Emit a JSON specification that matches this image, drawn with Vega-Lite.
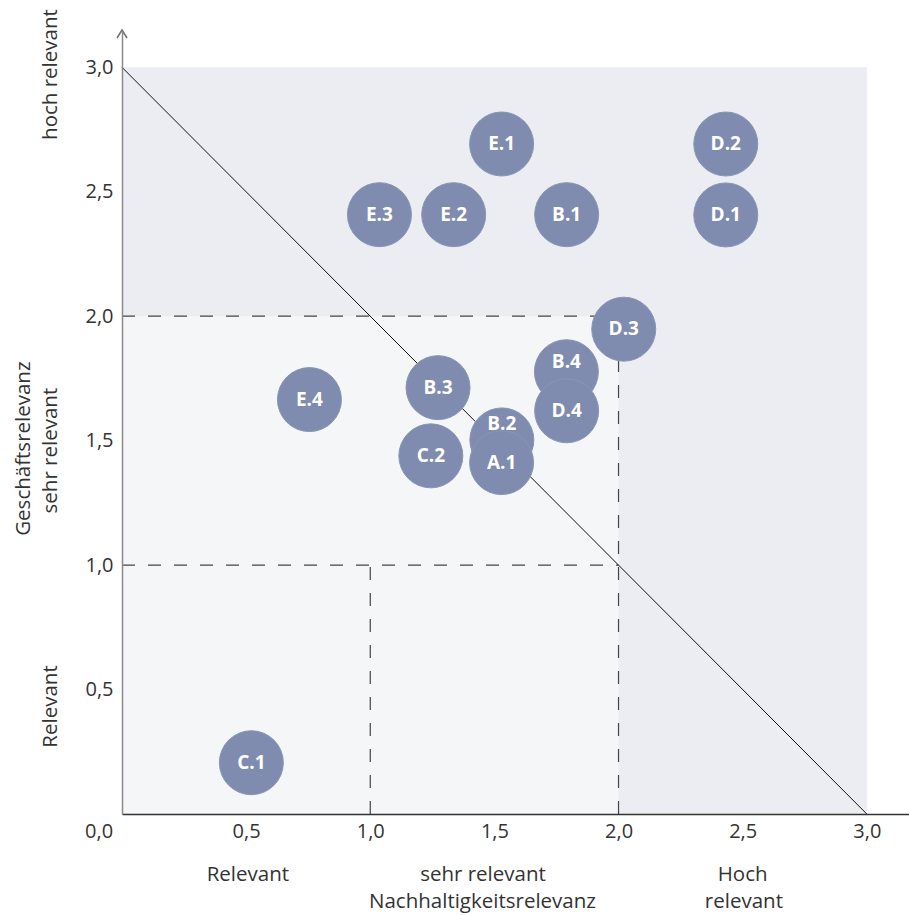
{
  "$schema": "https://vega.github.io/schema/vega-lite/v6.json",
  "width": 787,
  "height": 784,
  "autosize": {"type": "none"},
  "padding": {"left": 122, "top": 30, "right": 0, "bottom": 101},
  "background": "white",
  "config": {"view": {"stroke": null}, "font": "Open Sans", "axis": {"grid": false}},
  "layer": [
    {
      "data": {"values": [{"x": 0, "x2": 3, "y": 0, "y2": 3}]},
      "mark": {"type": "rect", "fill": "#ecedf2"},
      "encoding": {
        "x": {"field": "x", "type": "quantitative", "scale": {"domain": [0, 3.17], "nice": false, "zero": false},
          "axis": {"values": [0.5, 1, 1.5, 2, 2.5, 3], "labelExpr": "replace(format(datum.value, '.1f'), '.', ',')", "ticks": false, "domainColor": "#333333", "domainWidth": 1.5, "labelFontSize": 20, "labelColor": "#333333", "labelPadding": 7, "title": null, "zindex": 1, "labelFlush": false}},
        "x2": {"field": "x2"},
        "y": {"field": "y", "type": "quantitative", "scale": {"domain": [0, 3.15], "nice": false, "zero": false},
          "axis": {"values": [0.5, 1, 1.5, 2, 2.5, 3], "labelExpr": "replace(format(datum.value, '.1f'), '.', ',')", "ticks": false, "domainColor": "#8a8a8a", "domainWidth": 1.5, "labelFontSize": 20, "labelColor": "#333333", "labelPadding": 9, "title": null, "zindex": 1, "labelFlush": false}},
        "y2": {"field": "y2"}
      }
    },
    {
      "data": {"values": [{"x": 0, "x2": 2, "y": 0, "y2": 2}]},
      "mark": {"type": "rect", "fill": "#f5f6f8"},
      "encoding": {
        "x": {"field": "x", "type": "quantitative"},
        "x2": {"field": "x2"},
        "y": {"field": "y", "type": "quantitative"},
        "y2": {"field": "y2"}
      }
    },
    {
      "data": {"values": [
        {"x": 0, "x2": 2, "y": 2, "y2": 2},
        {"x": 2, "x2": 2, "y": 0, "y2": 2},
        {"x": 0, "x2": 2, "y": 1, "y2": 1},
        {"x": 1, "x2": 1, "y": 0, "y2": 1}
      ]},
      "mark": {"type": "rule", "color": "#444444", "strokeWidth": 1.2, "strokeDash": [13, 13]},
      "encoding": {
        "x": {"field": "x", "type": "quantitative"},
        "x2": {"field": "x2"},
        "y": {"field": "y", "type": "quantitative"},
        "y2": {"field": "y2"}
      }
    },
    {
      "data": {"values": [{"x": 0, "x2": 3, "y": 3, "y2": 0}]},
      "mark": {"type": "rule", "color": "#111111", "strokeWidth": 1},
      "encoding": {
        "x": {"field": "x", "type": "quantitative"},
        "x2": {"field": "x2"},
        "y": {"field": "y", "type": "quantitative"},
        "y2": {"field": "y2"}
      }
    },
    {
      "data": {"name": "pts", "values": [
        {"id": "E.1", "x": 1.529, "y": 2.692, "ly": 2.692},
        {"id": "D.2", "x": 2.432, "y": 2.692, "ly": 2.692},
        {"id": "E.3", "x": 1.037, "y": 2.408, "ly": 2.408},
        {"id": "E.2", "x": 1.336, "y": 2.408, "ly": 2.408},
        {"id": "B.1", "x": 1.791, "y": 2.408, "ly": 2.408},
        {"id": "D.1", "x": 2.432, "y": 2.407, "ly": 2.407},
        {"id": "D.3", "x": 2.021, "y": 1.948, "ly": 1.948},
        {"id": "E.4", "x": 0.755, "y": 1.665, "ly": 1.665},
        {"id": "B.3", "x": 1.273, "y": 1.713, "ly": 1.713},
        {"id": "C.2", "x": 1.244, "y": 1.439, "ly": 1.439},
        {"id": "B.4", "x": 1.790, "y": 1.777, "ly": 1.815},
        {"id": "D.4", "x": 1.791, "y": 1.620, "ly": 1.620},
        {"id": "B.2", "x": 1.530, "y": 1.503, "ly": 1.568},
        {"id": "A.1", "x": 1.529, "y": 1.412, "ly": 1.412},
        {"id": "C.1", "x": 0.521, "y": 0.206, "ly": 0.206}
      ]},
      "layer": [
        {
          "mark": {"type": "circle", "size": 4096, "opacity": 1, "fill": "#7f8caf", "stroke": "#8896b6", "strokeWidth": 1},
          "encoding": {
            "x": {"field": "x", "type": "quantitative"},
            "y": {"field": "y", "type": "quantitative"}
          }
        },
        {
          "mark": {"type": "text", "color": "white", "fontWeight": "bold", "fontSize": 19, "align": "center", "baseline": "middle"},
          "encoding": {
            "x": {"field": "x", "type": "quantitative"},
            "y": {"field": "ly", "type": "quantitative"},
            "text": {"field": "id"}
          }
        }
      ]
    },
    {
      "data": {"values": [
        {"t": "Relevant", "x": 0.507, "y": -0.271},
        {"t": "sehr relevant", "x": 1.454, "y": -0.271},
        {"t": "Nachhaltigkeitsrelevanz", "x": 1.452, "y": -0.378},
        {"t": "Hoch", "x": 2.5, "y": -0.271},
        {"t": "relevant", "x": 2.505, "y": -0.378}
      ]},
      "mark": {"type": "text", "fontSize": 20.5, "color": "#333333", "align": "center", "baseline": "alphabetic"},
      "encoding": {
        "x": {"field": "x", "type": "quantitative"},
        "y": {"field": "y", "type": "quantitative"},
        "text": {"field": "t"}
      }
    },
    {
      "data": {"values": [
        {"t": "hoch relevant", "x": -0.262, "y": 2.971},
        {"t": "sehr relevant", "x": -0.262, "y": 1.46},
        {"t": "Relevant", "x": -0.262, "y": 0.432},
        {"t": "Geschäftsrelevanz", "x": -0.3705, "y": 1.468}
      ]},
      "mark": {"type": "text", "fontSize": 20.5, "color": "#333333", "align": "center", "baseline": "alphabetic", "angle": 270},
      "encoding": {
        "x": {"field": "x", "type": "quantitative"},
        "y": {"field": "y", "type": "quantitative"},
        "text": {"field": "t"}
      }
    },
    {
      "data": {"values": [{"t": "0,0", "x": -0.036, "y": -0.074}]},
      "mark": {"type": "text", "fontSize": 20, "color": "#333333", "align": "right", "baseline": "middle"},
      "encoding": {
        "x": {"field": "x", "type": "quantitative"},
        "y": {"field": "y", "type": "quantitative"},
        "text": {"field": "t"}
      }
    },
    {
      "data": {"values": [{"x": 0, "y": 3.15}]},
      "mark": {"type": "point", "shape": "M -0.625 1 L 0 0 L 0.625 1", "size": 256, "filled": false, "stroke": "#6f6f6f", "strokeWidth": 1.5, "opacity": 1},
      "encoding": {
        "x": {"field": "x", "type": "quantitative"},
        "y": {"field": "y", "type": "quantitative"}
      }
    }
  ]
}
